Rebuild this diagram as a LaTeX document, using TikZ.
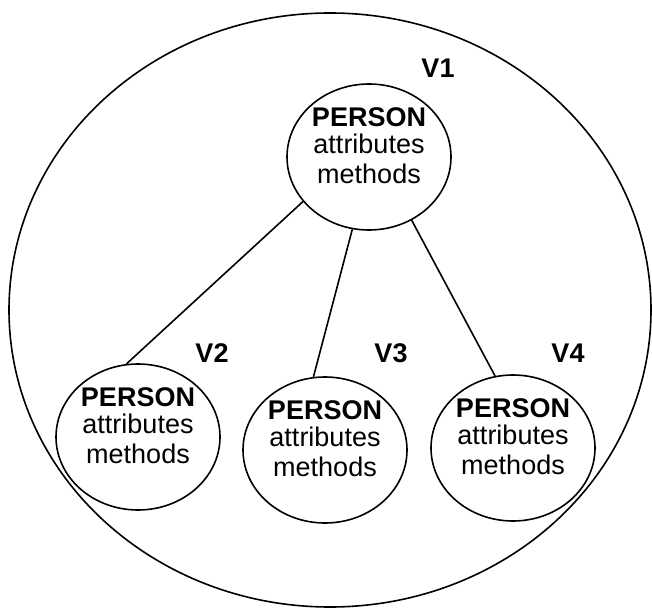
\documentclass[tikz,border=0pt]{standalone}
\usepackage{fontspec}
\setmainfont{Liberation Sans}
\usetikzlibrary{shapes.geometric}
\newcommand{\personbox}{\raisebox{1pt}[0pt][0pt]{\begin{tabular}[c]{@{}c@{}}\textbf{PERSON}\\[-1pt]attributes\\[2pt]methods\end{tabular}}}
\begin{document}
\begin{tikzpicture}[x=1pt,y=-1pt,
  line width=1.6pt,
  person/.style={draw, ellipse, inner sep=0pt, minimum width=164pt, minimum height=146pt,
    font=\fontsize{27}{28}\selectfont},
  version/.style={font=\fontsize{27}{30}\selectfont\bfseries}]
  \useasboundingbox (0,0) rectangle (652,609);
  % outer boundary
  \draw (330,310) ellipse [x radius=321pt, y radius=297pt];
  % class versions
  \node[person] (v1) at (369,157) {\personbox};
  \node[person] (v2) at (138,437) {\personbox};
  \node[person] (v3) at (325,450) {\personbox};
  \node[person] (v4) at (513,448) {\personbox};
  % version labels
  \node[version] (l1) at (438,68) {V1};
  \node[version] (l2) at (212,353) {V2};
  \node[version] (l3) at (391,353) {V3};
  \node[version] (l4) at (568,353) {V4};
  % derivation links
  \draw (v1.214) -- (v2.99);
  \draw (v1.257) -- (v3.99);
  \draw (v1.304) -- (v4.104);
\end{tikzpicture}
\end{document}
